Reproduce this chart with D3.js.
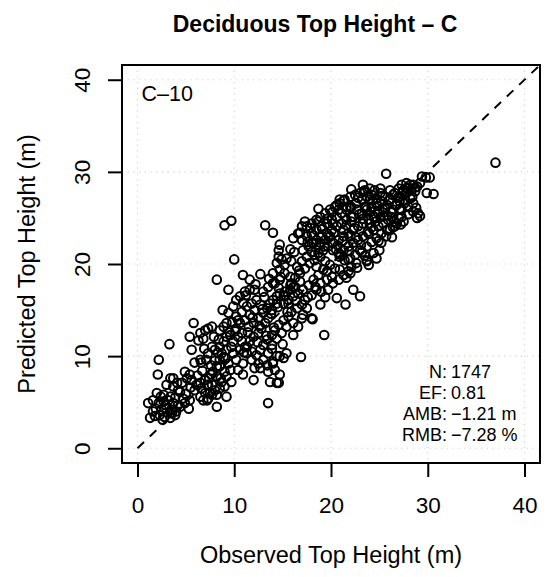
<!DOCTYPE html>
<html>
<head>
<meta charset="utf-8">
<script src="https://cdn.jsdelivr.net/npm/d3@7"></script>
<style>
  html, body { margin: 0; padding: 0; background: #fff; }
  svg { display: block; font-family: "Liberation Sans", Arial, Helvetica, sans-serif; }
</style>
</head>
<body>
<svg id="chart" width="548" height="577"></svg>
<script>
// ---- Data (observed, predicted top height in m) ----
const observed = [
  // lower-left cluster
  1.6,2.2,2.7,3.2,3.7,1.9,2.5,3.0,3.5,4.0,2.3,2.8,3.4,3.9,1.6,2.0,2.7,3.4,4.4,4.9,5.3,4.7,5.4,3.4,1.1,1.3,
  // group 2
  3.0,3.7,4.2,4.6,5.1,5.6,6.1,6.6,7.0,7.3,7.7,3.7,4.9,5.4,5.9,6.5,6.8,4.1,8.0,7.3,7.0,6.5,
  // steep column
  7.2,7.5,7.7,7.4,7.8,8.2,8.5,8.7,8.0,8.5,8.9,9.2,8.4,7.7,7.3,7.1,7.6,8.2,8.7,9.0,9.2,9.6,9.4,8.9,9.2,9.7,9.9,10.2,
  9.6,10.1,10.4,10.8,11.1,11.3,10.6,6.8,6.5,7.0,7.3,7.7,8.5,8.9,9.2,8.5,9.0,9.7,9.2,8.2,8.5,6.5,6.6,5.6,
  // middle zone
  10.2,10.8,11.3,11.8,12.3,12.7,12.1,11.6,11.1,10.6,10.2,11.5,12.0,12.5,13.0,13.4,13.7,14.0,14.4,14.7,15.2,15.8,16.1,
  14.4,13.9,13.5,13.2,12.8,12.5,12.0,11.6,11.3,11.8,12.3,12.7,13.0,13.4,13.9,14.2,14.6,15.1,15.6,15.9,16.5,17.0,17.5,
  17.1,16.1,15.4,14.9,14.4,13.9,13.5,13.0,12.5,12.1,11.8,12.7,13.4,14.0,14.4,14.7,15.4,16.1,17.0,18.0,10.2,10.6,11.1,
  11.6,12.1,9.4,9.9,13.0,13.5,14.0,14.6,15.1,15.6,10.8,9.9,10.4,10.9,13.5,14.0,14.2,13.7,14.6,
  // upper-middle
  14.4,14.7,15.2,15.8,16.3,16.8,17.3,17.8,18.3,18.9,19.4,19.9,20.4,20.9,19.2,18.7,18.2,17.7,17.1,16.6,16.1,15.6,15.1,
  18.9,19.6,20.1,18.5,18.0,17.3,16.5,15.9,15.4,17.0,17.5,18.0,18.5,19.6,14.7,14.2,14.0,14.6,15.2,15.8,16.3,16.8,19.7,
  19.0,20.2,20.8,21.3,21.8,22.1,21.6,22.0,
  // upper dense band
  17.0,17.5,18.0,18.5,19.0,19.6,20.1,20.6,21.1,21.6,22.1,22.6,23.2,23.7,24.2,24.7,25.2,25.8,25.4,24.9,24.4,23.9,23.3,
  22.8,22.3,21.8,21.3,20.8,20.2,19.7,19.2,18.7,18.2,17.7,17.1,17.5,18.0,18.5,18.9,19.4,19.9,20.4,20.9,21.4,22.0,22.5,
  23.0,23.5,24.0,24.5,25.1,22.7,23.2,23.7,24.2,24.7,22.1,21.6,21.1,20.6,20.1,19.6,19.0,18.5,18.0,20.2,20.8,21.3,21.8,
  22.3,22.8,23.3,23.9,24.4,24.9,25.4,25.9,26.3,25.8,25.2,24.7,24.2,23.7,23.2,22.5,22.0,21.4,20.9,22.6,23.7,24.4,18.9,
  19.4,19.9,17.0,17.3,16.6,23.0,22.0,21.3,20.2,20.8,22.3,21.6,23.5,24.5,24.0,25.1,25.8,26.4,26.8,27.1,26.1,25.6,25.1,
  26.1,26.6,27.1,27.5,27.8,28.2,27.6,27.3,27.0,27.5,26.6,26.1,27.3,28.0,28.5,28.3,28.9,29.2,28.5,27.8,27.0,
  // extra fill, upper band
  18.3,18.8,19.3,19.8,20.3,20.7,21.2,21.6,22.1,22.4,22.9,23.3,23.6,24.1,24.3,24.8,25.3,25.6,26.0,26.4,26.9,27.4,27.9,
  28.2,28.7,21.0,21.9,22.6,23.1,23.8,24.2,24.6,25.0,25.5,26.2,26.7,27.1,27.7,28.4,28.8,19.1,19.6,20.1,20.6,21.3,22.0,
  22.8,23.4,24.0,18.2,18.7,17.6,17.9,20.5,21.8,23.5,24.9,25.7,26.5,27.2,28.0,28.9,26.3,25.0,22.7,23.9,
  // extra fill, middle
  10.4,10.9,11.4,11.9,12.2,12.6,13.1,13.3,13.8,14.1,14.5,14.8,15.3,15.5,15.9,16.4,16.7,12.9,11.2,13.6,14.9,16.2,15.0,
  12.4,11.0,13.9,16.6,17.6,18.4,19.4,18.9,
  // extra fill, lower
  5.0,5.5,6.2,6.7,7.2,7.6,8.0,8.3,8.6,9.1,9.5,9.8,7.9,6.9,6.3,5.9,4.4,3.9,2.4,2.9,3.6,4.2,1.8,2.6,
  // distinct points / outliers
  37.0,25.7,29.4,29.8,30.2,29.9,30.6,29.0,29.2,28.5,27.3,27.8,28.7,22.1,23.3,18.7,20.9,9.7,9.0,13.2,14.0,10.0,8.2,
  14.7,14.6,15.8,16.1,16.8,9.4,10.9,11.6,12.7,8.8,5.8,5.4,3.3,2.2,2.1,3.4,8.2,13.5,19.3,16.9,23.0,22.3,21.5,20.6,
  18.1,24.7,23.7,25.2,26.8,26.4,12.0,10.9,14.4,14.7,15.1
];
const predicted = [
  // lower-left cluster
  5.2,4.9,5.1,5.2,4.9,4.3,4.2,4.3,4.2,4.0,3.6,3.4,3.3,3.6,4.0,6.0,5.8,5.6,4.5,4.9,4.3,5.4,5.2,3.8,4.9,3.3,
  // group 2
  6.9,6.7,6.3,7.1,7.6,7.4,6.9,6.5,6.0,5.4,5.8,7.6,8.3,8.0,6.3,5.6,5.2,7.1,6.3,6.9,7.4,7.1,
  // steep column
  5.2,6.0,6.9,7.6,8.3,8.9,9.6,10.3,10.7,11.0,11.6,12.1,11.8,11.0,10.3,9.6,9.0,7.8,7.2,6.7,7.8,8.5,9.2,9.9,10.7,11.0,10.3,9.6,
  12.3,12.7,12.1,11.6,11.0,10.3,10.7,11.9,12.5,12.8,13.0,13.2,12.8,13.2,13.6,8.9,8.3,7.2,5.6,5.8,6.5,9.6,9.3,10.7,
  // middle zone
  14.3,14.8,15.4,15.7,16.1,15.6,15.0,14.5,13.9,13.6,13.0,13.2,13.6,14.1,14.7,15.2,15.7,16.1,16.5,16.8,17.0,17.2,17.5,
  15.7,15.0,14.1,13.6,13.0,12.5,12.1,11.6,11.0,10.5,10.1,10.7,11.2,11.8,12.3,12.8,13.4,13.9,14.3,14.8,15.2,15.6,15.2,
  14.5,13.6,13.2,12.5,11.9,11.2,10.3,9.6,9.2,8.7,9.6,8.7,9.0,9.2,10.0,10.0,10.3,12.3,14.1,14.1,16.1,16.5,17.0,
  17.2,17.2,14.7,15.4,17.0,17.5,17.9,17.4,16.5,15.7,12.5,11.6,8.5,9.2,8.3,9.4,8.5,7.2,7.1,
  // upper-middle
  20.1,19.4,19.0,18.6,18.5,19.0,19.5,20.1,20.4,20.8,20.3,19.9,19.5,19.4,19.4,18.8,18.3,17.7,17.2,16.8,16.5,16.1,15.7,
  17.9,18.3,18.6,17.2,16.6,16.1,19.7,20.3,20.6,20.3,20.8,21.3,19.7,19.2,18.3,17.9,19.0,20.8,19.9,17.7,17.5,18.1,17.2,
  17.0,17.9,18.3,18.8,19.2,19.7,18.5,19.0,
  // upper dense band
  22.6,23.0,23.3,23.7,24.1,24.4,24.8,25.1,25.5,25.9,26.2,26.6,27.0,27.3,27.5,27.1,26.8,26.4,25.9,25.5,25.1,24.8,24.4,
  24.1,23.7,23.3,23.0,22.6,22.3,21.9,21.5,21.2,22.3,21.9,21.5,24.1,24.4,24.8,25.1,25.5,25.9,26.2,26.6,27.0,27.3,27.5,
  27.7,28.0,28.2,28.0,27.7,25.9,25.5,25.9,26.2,26.6,25.1,24.8,24.4,24.1,23.7,23.3,23.0,22.6,22.3,21.5,21.2,21.5,21.9,
  22.3,22.6,23.0,23.3,23.7,24.1,24.4,24.8,25.1,23.7,23.3,22.8,22.4,21.9,21.3,21.0,20.6,20.4,20.8,20.1,20.4,21.2,22.3,
  22.6,23.0,24.1,24.6,23.3,21.5,23.0,23.7,24.4,25.9,25.1,26.2,26.2,25.1,24.4,25.1,25.3,25.9,26.4,26.8,27.0,27.3,28.2,
  28.0,27.7,27.3,28.0,27.7,27.1,26.6,25.9,25.0,24.6,24.1,23.7,25.1,26.2,26.6,28.0,28.4,28.8,28.6,28.8,28.2,
  // extra fill, upper band
  21.0,22.0,21.9,22.9,23.4,22.0,22.5,24.2,24.6,23.9,25.4,24.9,26.1,25.7,26.9,26.3,27.4,26.0,26.9,27.5,27.2,27.9,28.3,
  28.6,27.9,21.0,21.4,22.9,22.1,23.5,24.0,24.6,25.8,25.2,25.6,26.4,26.0,26.9,27.3,26.1,23.8,24.9,25.6,26.4,26.9,26.1,
  27.2,27.9,27.0,23.1,24.6,22.4,23.9,21.6,20.5,20.9,22.5,23.0,24.6,24.3,25.4,25.0,22.9,21.5,19.6,19.9,
  // extra fill, middle
  13.9,15.8,12.6,14.2,17.8,13.3,16.4,12.2,14.6,13.1,15.3,18.6,16.6,14.8,17.9,16.0,19.3,15.1,16.6,18.4,20.5,21.3,11.3,
  11.5,10.4,10.8,13.2,16.4,17.5,16.4,15.6,
  // extra fill, lower
  5.9,6.6,7.9,8.4,6.9,8.0,9.5,10.4,7.6,9.8,12.6,13.7,12.1,10.8,11.7,9.3,6.1,5.5,5.6,4.7,3.9,4.7,3.5,3.1,
  // distinct points / outliers
  31.0,29.8,29.5,29.4,29.4,27.7,27.6,25.5,25.2,25.7,28.6,28.2,28.3,28.1,28.6,26.0,27.0,24.7,24.2,24.2,23.4,20.5,18.3,
  22.1,21.5,21.6,22.8,23.4,17.2,18.8,18.3,18.9,15.0,13.6,12.1,11.3,9.6,8.0,7.6,4.5,4.9,12.3,9.9,16.5,17.2,15.6,16.3,
  14.0,20.6,20.3,22.3,24.4,24.0,7.4,8.0,7.1,8.0,9.8
];
const axisTicks = [0, 10, 20, 30, 40];
const titleText = "Deciduous Top Height \u2013 C";
const xLabel = "Observed Top Height (m)";
const yLabel = "Predicted Top Height (m)";
const panelLabel = "C\u201310";
const statNames = ["N:", "EF:", "AMB:", "RMB:"];
const statValues = ["1747", "0.81", "\u22121.21 m", "\u22127.28 %"];

// ---- Drawing ----
const svg = d3.select("#chart");
const W = 548, H = 577;
const L = 122, R = 540, T = 65, B = 463;
svg.append("rect").attr("width", W).attr("height", H).attr("fill", "#fff");

const x = d3.scaleLinear().domain([-1.6, 41.6]).range([L, R]);
const y = d3.scaleLinear().domain([-1.6, 41.6]).range([B, T]);

// grid
const grid = svg.append("g").attr("stroke", "#d3d3d3").attr("stroke-width", 1.2)
  .attr("stroke-dasharray", "1.2,4.5");
grid.selectAll("line.v").data(axisTicks).join("line").attr("class", "v")
  .attr("x1", d => x(d)).attr("x2", d => x(d)).attr("y1", T).attr("y2", B);
grid.selectAll("line.h").data(axisTicks).join("line").attr("class", "h")
  .attr("y1", d => y(d)).attr("y2", d => y(d)).attr("x1", L).attr("x2", R);

// clip
svg.append("clipPath").attr("id", "plotclip").append("rect")
  .attr("x", L).attr("y", T).attr("width", R - L).attr("height", B - T);

// 1:1 line
svg.append("line").attr("clip-path", "url(#plotclip)")
  .attr("x1", x(0)).attr("y1", y(0)).attr("x2", x(41.6)).attr("y2", y(41.6))
  .attr("stroke", "#000").attr("stroke-width", 2).attr("stroke-dasharray", "9,8");

// points
const pts = observed.map((o, i) => ({ o, p: predicted[i] }));
svg.append("g").selectAll("circle").data(pts).join("circle")
  .attr("cx", d => x(d.o)).attr("cy", d => y(d.p)).attr("r", 4.3)
  .attr("fill", "none").attr("stroke", "#000").attr("stroke-width", 2);

// box
svg.append("rect").attr("x", L).attr("y", T).attr("width", R - L).attr("height", B - T)
  .attr("fill", "none").attr("stroke", "#000").attr("stroke-width", 2);

// axes
const xAxis = svg.append("g").attr("transform", `translate(0,${B})`)
  .call(d3.axisBottom(x).tickValues(axisTicks).tickSize(14).tickFormat(d3.format("d")));
xAxis.select(".domain").remove();
xAxis.selectAll(".tick line").attr("stroke", "#000").attr("stroke-width", 2);
xAxis.selectAll(".tick text").attr("y", 50).attr("dy", 0)
  .attr("font-size", 22.5).attr("fill", "#000")
  .attr("font-family", "'Liberation Sans', Arial, Helvetica, sans-serif");

const yAxis = svg.append("g").attr("transform", `translate(${L},0)`)
  .call(d3.axisLeft(y).tickValues(axisTicks).tickSize(14).tickFormat(d3.format("d")));
yAxis.select(".domain").remove();
yAxis.selectAll(".tick line").attr("stroke", "#000").attr("stroke-width", 2);
yAxis.selectAll(".tick text").attr("x", 0).attr("y", 0).attr("dy", 0)
  .attr("transform", "translate(-32,0) rotate(-90)")
  .attr("text-anchor", "middle")
  .attr("font-size", 22.5).attr("fill", "#000")
  .attr("font-family", "'Liberation Sans', Arial, Helvetica, sans-serif");

// titles
svg.append("text").attr("x", 315).attr("y", 32).attr("text-anchor", "middle")
  .attr("font-size", 23).attr("font-weight", "bold").text(titleText);
svg.append("text").attr("x", (L + R) / 2).attr("y", 563).attr("text-anchor", "middle")
  .attr("font-size", 23.5).text(xLabel);
svg.append("text").attr("transform", `translate(35,${(T + B) / 2}) rotate(-90)`)
  .attr("text-anchor", "middle").attr("font-size", 23.5).text(yLabel);

// panel label
svg.append("text").attr("x", 141.5).attr("y", 100.5).attr("font-size", 21.5).text(panelLabel);

// stats
const st = svg.append("g").attr("font-size", 18);
statNames.forEach((n, i) => {
  st.append("text").attr("x", 447).attr("y", 378 + i * 21).attr("text-anchor", "end").text(n);
  st.append("text").attr("x", 451).attr("y", 378 + i * 21).attr("text-anchor", "start").text(statValues[i]);
});
</script>
</body>
</html>
